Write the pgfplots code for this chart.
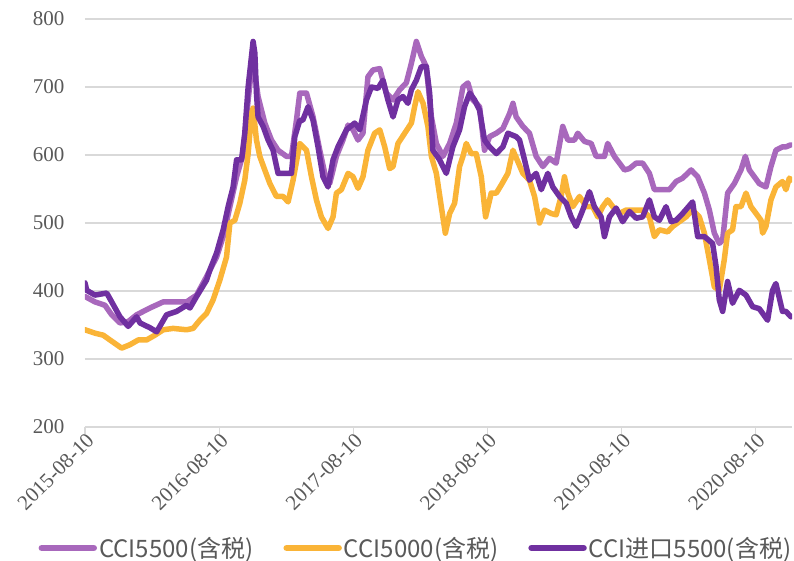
\documentclass[border=0pt]{standalone}
\usepackage{fontspec}
\setmainfont{Liberation Serif}
\newfontfamily\tickfont{Liberation Serif}
\newfontfamily\cjk{Noto Sans CJK SC}
\usepackage{pgfplots}
\pgfplotsset{compat=1.18}
\definecolor{lpurple}{RGB}{168,104,188}
\definecolor{lorange}{RGB}{250,180,55}
\definecolor{dpurple}{RGB}{112,48,160}
\definecolor{gridgray}{RGB}{217,217,217}
\definecolor{textgray}{RGB}{89,89,89}
\newcommand{\tf}{\tickfont\fontsize{21}{23}\selectfont}
\newcommand{\lf}{\cjk\fontsize{24}{26}\selectfont}

\pgfplotstableread{
t v
0.000 392
0.074 384
0.149 379
0.199 365
0.261 353
0.322 355
0.385 365
0.484 375
0.583 384
0.683 384
0.757 384
0.832 394
0.906 421
0.981 450
1.030 480
1.080 524
1.130 568
1.179 602
1.216 681
1.241 725
1.253 740
1.290 686
1.340 647
1.390 622
1.439 607
1.502 598
1.539 598
1.576 651
1.601 691
1.651 691
1.700 656
1.750 607
1.787 573
1.824 558
1.874 598
1.923 622
1.961 644
1.998 637
2.035 622
2.072 632
2.109 715
2.147 725
2.197 727
2.246 691
2.296 681
2.346 696
2.395 706
2.433 735
2.470 767
2.507 745
2.544 730
2.582 656
2.619 617
2.668 598
2.718 617
2.768 647
2.817 700
2.854 706
2.891 681
2.941 671
2.978 607
3.016 627
3.066 632
3.115 639
3.165 661
3.190 676
3.214 656
3.264 642
3.313 632
3.363 598
3.413 583
3.462 595
3.512 588
3.561 642
3.599 622
3.649 622
3.673 632
3.723 620
3.773 617
3.810 598
3.872 598
3.896 617
3.946 598
3.984 588
4.021 578
4.058 580
4.108 588
4.157 588
4.207 573
4.244 549
4.294 549
4.356 549
4.406 561
4.455 566
4.518 578
4.567 568
4.617 544
4.654 519
4.691 485
4.728 470
4.753 475
4.790 544
4.840 558
4.890 578
4.922 598
4.952 578
4.989 568
5.026 558
5.076 553
5.113 583
5.150 607
5.199 612
5.225 612
5.262 615
}\cciA

\pgfplotstableread{
t v
0.000 343
0.074 338
0.136 335
0.186 328
0.273 316
0.335 321
0.397 328
0.459 328
0.521 335
0.583 343
0.657 345
0.757 343
0.806 345
0.856 357
0.906 367
0.955 387
1.005 416
1.055 450
1.080 500
1.117 504
1.154 529
1.191 563
1.216 602
1.241 661
1.253 669
1.278 622
1.303 598
1.340 578
1.378 558
1.427 539
1.477 539
1.514 531
1.551 563
1.601 617
1.651 607
1.688 568
1.725 534
1.762 509
1.812 492
1.849 509
1.874 544
1.911 549
1.961 573
1.998 568
2.035 551
2.072 568
2.109 607
2.159 632
2.197 637
2.234 612
2.271 580
2.296 583
2.333 617
2.383 632
2.433 647
2.457 671
2.482 693
2.520 676
2.556 642
2.582 598
2.619 573
2.656 524
2.686 485
2.718 514
2.755 529
2.792 583
2.817 598
2.842 617
2.879 602
2.916 602
2.954 568
2.986 509
3.028 544
3.066 544
3.103 556
3.152 573
3.190 607
3.227 590
3.264 573
3.313 563
3.351 539
3.388 500
3.425 519
3.475 514
3.512 512
3.549 539
3.574 568
3.599 544
3.636 524
3.686 539
3.736 524
3.785 524
3.822 509
3.859 524
3.896 534
3.934 524
3.984 514
4.033 519
4.095 519
4.157 519
4.207 509
4.244 480
4.281 490
4.343 487
4.381 495
4.430 502
4.480 509
4.529 519
4.579 509
4.617 485
4.654 446
4.691 406
4.728 401
4.765 446
4.790 485
4.827 490
4.852 524
4.890 524
4.927 544
4.964 524
5.002 514
5.039 504
5.051 485
5.076 495
5.113 534
5.150 553
5.199 561
5.225 549
5.250 566
5.262 563
}\cciB

\pgfplotstableread{
t v
0.000 412
0.013 401
0.074 394
0.162 397
0.199 384
0.261 362
0.322 348
0.385 362
0.410 353
0.484 346
0.534 340
0.608 365
0.683 370
0.757 379
0.782 375
0.832 392
0.906 416
0.931 431
0.981 456
1.030 490
1.067 524
1.104 553
1.130 593
1.167 593
1.191 632
1.216 700
1.241 745
1.253 767
1.266 750
1.278 691
1.290 656
1.328 642
1.365 622
1.402 607
1.439 573
1.502 573
1.539 573
1.564 627
1.601 651
1.623 651
1.663 671
1.700 651
1.737 612
1.774 568
1.812 553
1.849 593
1.886 612
1.949 637
2.010 647
2.048 637
2.098 681
2.135 700
2.184 698
2.221 710
2.258 681
2.296 656
2.333 681
2.370 686
2.407 676
2.433 696
2.470 710
2.507 730
2.544 730
2.569 691
2.593 607
2.643 593
2.693 573
2.742 612
2.792 637
2.829 671
2.867 691
2.904 681
2.941 666
2.978 622
3.016 612
3.066 602
3.115 612
3.152 632
3.214 627
3.239 622
3.276 593
3.313 563
3.363 573
3.401 549
3.450 573
3.487 553
3.537 539
3.587 529
3.624 509
3.661 495
3.710 519
3.760 546
3.797 524
3.847 509
3.872 480
3.909 509
3.959 522
4.008 502
4.058 517
4.108 507
4.157 509
4.207 534
4.244 509
4.281 504
4.331 524
4.369 502
4.406 504
4.455 514
4.529 531
4.567 480
4.617 480
4.678 470
4.704 436
4.728 387
4.753 370
4.790 414
4.827 382
4.877 401
4.927 394
4.976 377
5.026 374
5.088 357
5.125 401
5.150 411
5.199 370
5.225 370
5.262 362
}\cciC

\begin{document}
\begin{tikzpicture}
\begin{axis}[
  at={(0pt,0pt)}, anchor=south west,
  scale only axis, width=707pt, height=408pt,
  xmin=0, xmax=5.27, ymin=200, ymax=800,
  xtick={0,1,2,3,4,5},
  xticklabels={{\tf 2015-08-10},{\tf 2016-08-10},{\tf 2017-08-10},{\tf 2018-08-10},{\tf 2019-08-10},{\tf 2020-08-10}},
  ytick={200,300,400,500,600,700,800},
  yticklabels={{\tf 200},{\tf 300},{\tf 400},{\tf 500},{\tf 600},{\tf 700},{\tf 800}},
  ymajorgrids, grid style={draw=gridgray, line width=1.5pt},
  axis x line*=bottom, axis y line*=left,
  x axis line style={draw=gridgray, line width=1.5pt, -},
  y axis line style={draw=none},
  ytick style={draw=none},
  xtick style={draw=gridgray, line width=1.2pt},
  tick align=outside, major tick length=7pt,
  xtick pos=bottom,
  /pgf/number format/assume math mode=true,
  x tick label style={font=\tf, text=textgray, rotate=45, anchor=east, xshift=5pt, yshift=-6pt},
  y tick label style={font=\tf, text=textgray, xshift=-10pt},
  legend columns=3,
  legend style={draw=none, fill=none, at={(rel axis cs:0.468,0)}, anchor=center,
    yshift=-121pt, text=textgray,
    /tikz/every even column/.append style={column sep=28pt}},
  legend image code/.code={\draw[#1, line width=6.5pt, line cap=round] (0pt,0pt) -- (52pt,0pt);},
  every axis plot/.append style={line width=5.5pt, line join=round, line cap=round},
]
\addplot[lpurple] table[x=t, y=v] {\cciA};
\addlegendentry{\lf CCI5500(含税)}
\addplot[lorange] table[x=t, y=v] {\cciB};
\addlegendentry{\lf CCI5000(含税)}
\addplot[dpurple] table[x=t, y=v] {\cciC};
\addlegendentry{\lf CCI进口5500(含税)}
\end{axis}
\pgfresetboundingbox
\path[use as bounding box] (-85pt,-134pt) rectangle (709pt,427pt);
\end{tikzpicture}
\end{document}
